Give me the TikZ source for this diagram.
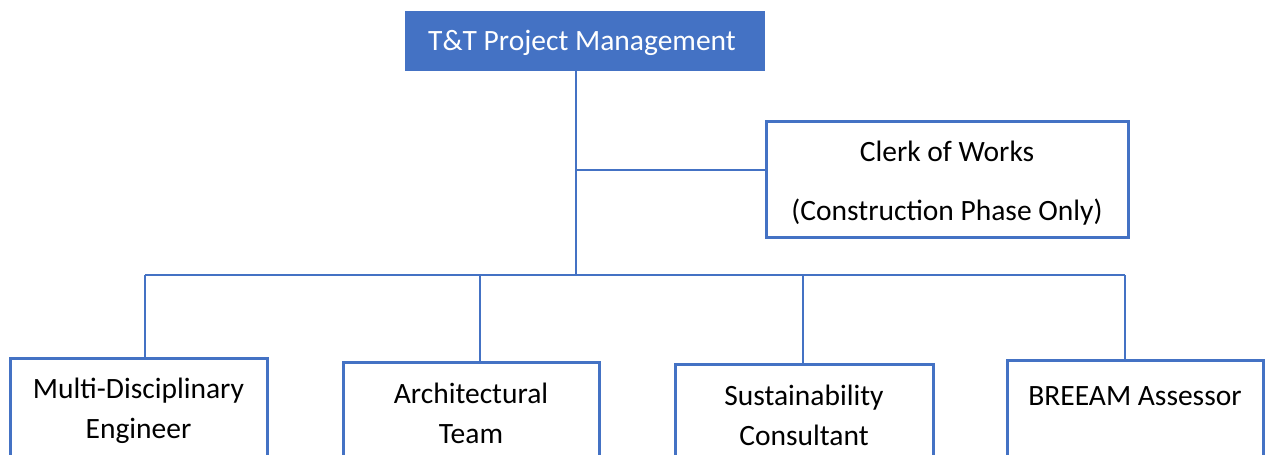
\documentclass[tikz,border=0pt]{standalone}
\usepackage{fontspec}
\setmainfont{Carlito}
\definecolor{obl}{HTML}{4472C4}
\begin{document}
\begin{tikzpicture}[x=1pt,y=-1pt,
  font=\fontsize{29.5}{40}\selectfont,
  boxst/.style={draw=obl, line width=3pt, fill=white, inner sep=0pt},
  topst/.style={fill=obl, text=white, inner sep=0pt, minimum width=360pt, minimum height=60pt},
  lbl/.style={inner sep=0pt, align=center, text=black},
  conn/.style={draw=obl, line width=2.6pt}]
\useasboundingbox (0,0) rectangle (1266,455);
\clip (0,0) rectangle (1266,455);
% coordinates of junctions
\coordinate (busT) at (576,275);
\coordinate (cwj) at (576,170);
\coordinate (busL) at (145,275);
\coordinate (busA) at (480,275);
\coordinate (busS) at (803,275);
\coordinate (busR) at (1125,275);
% nodes
\node[topst] (pm) at (585,41) {};
\node[lbl, text=white] (pmt) at (582,43) {T\&T Project Management};
\node[boxst, minimum width=362pt, minimum height=116pt] (cw) at (947,179) {};
\node[lbl] (cw1) at (947,151) {Clerk of Works};
\node[lbl] (cw2) at (947,212) {(Construction Phase Only)};
\node[boxst, minimum width=257pt, minimum height=200pt] (b1) at (138.5,458) {};
\node[boxst, minimum width=256pt, minimum height=200pt] (b2) at (471,462) {};
\node[boxst, minimum width=258pt, minimum height=200pt] (b3) at (804,464) {};
\node[boxst, minimum width=256pt, minimum height=200pt] (b4) at (1135,460) {};
\node[lbl] (t1) at (138.5,411) {Multi-Disciplinary\\Engineer};
\node[lbl] (t2) at (471,413) {Architectural\\Team};
\node[lbl] (t3) at (804,415) {Sustainability\\Consultant};
\node[lbl] (t4) at (1135,396) {BREEAM Assessor};
% connectors
\draw[conn] (busT |- pm.south) -- (busT);
\draw[conn] (cwj) -- (cwj -| cw.west);
\draw[conn] (busL) -- (busR);
\draw[conn] (busL) -- (busL |- b1.north);
\draw[conn] (busA) -- (busA |- b2.north);
\draw[conn] (busS) -- (busS |- b3.north);
\draw[conn] (busR) -- (busR |- b4.north);
\end{tikzpicture}
\end{document}
